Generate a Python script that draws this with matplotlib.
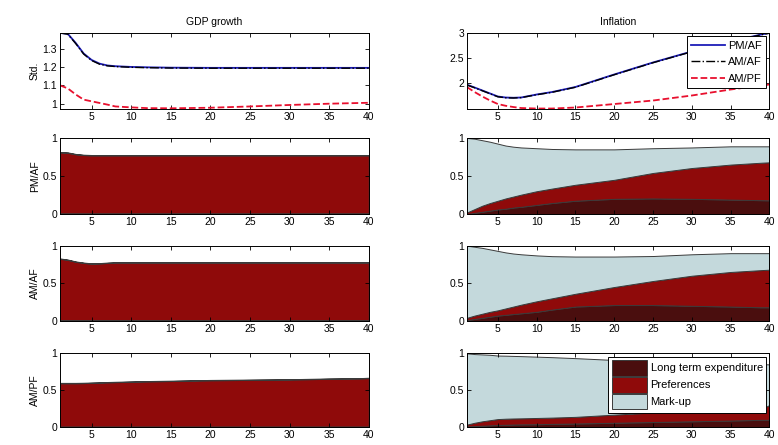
import matplotlib
matplotlib.use("Agg")
import matplotlib.pyplot as plt

plt.rcParams["font.family"] = ["Liberation Sans", "DejaVu Sans"]
plt.rcParams["font.size"] = 7.5

# horizons
horizons = [1, 2, 3, 4, 5, 6, 7, 8, 10, 12, 15, 20, 25, 30, 35, 39, 40]

# standard deviations
gdp_pm_af = [1.385, 1.38, 1.33, 1.273, 1.238, 1.218, 1.208, 1.204, 1.2, 1.198, 1.196, 1.195, 1.195, 1.195, 1.195, 1.195, 1.195]
gdp_am_af = [1.385, 1.378, 1.327, 1.27, 1.235, 1.215, 1.206, 1.202, 1.198, 1.196, 1.194, 1.193, 1.193, 1.193, 1.193, 1.193, 1.193]
gdp_am_pf = [1.1, 1.083, 1.05, 1.022, 1.013, 1.004, 0.995, 0.985, 0.98, 0.976, 0.975, 0.978, 0.985, 0.993, 1.0, 1.004, 1.005]
inf_pm_af = [1.967, 1.91, 1.85, 1.79, 1.73, 1.71, 1.705, 1.71, 1.77, 1.82, 1.92, 2.17, 2.41, 2.63, 2.83, 2.97, 3.0]
inf_am_af = [1.96, 1.905, 1.845, 1.785, 1.725, 1.705, 1.7, 1.708, 1.765, 1.815, 1.915, 2.165, 2.405, 2.625, 2.825, 2.965, 2.995]
inf_am_pf = [1.92, 1.82, 1.73, 1.65, 1.58, 1.545, 1.52, 1.5, 1.49, 1.49, 1.51, 1.58, 1.65, 1.75, 1.87, 1.95, 1.97]

# variance shares, GDP growth
gdp_lt = [0.01] * 17
gdp_mu = [0.005] * 17
gdp_pref_pm_af = [0.80, 0.795, 0.775, 0.765, 0.761, 0.761, 0.761, 0.761, 0.761, 0.761, 0.761, 0.761, 0.761, 0.761, 0.761, 0.761, 0.761]
gdp_pref_am_af = [0.815, 0.80, 0.775, 0.76, 0.75, 0.753, 0.76, 0.765, 0.765, 0.765, 0.765, 0.765, 0.765, 0.765, 0.765, 0.765, 0.765]
gdp_pref_am_pf = [0.585, 0.585, 0.585, 0.587, 0.59, 0.593, 0.597, 0.60, 0.605, 0.61, 0.615, 0.625, 0.63, 0.635, 0.645, 0.65, 0.655]

# variance shares, inflation
inf_lt_pm_af = [0.0, 0.015, 0.03, 0.045, 0.06, 0.07, 0.085, 0.095, 0.12, 0.145, 0.175, 0.2, 0.205, 0.2, 0.19, 0.182, 0.18]
inf_pref_pm_af = [0.02, 0.05, 0.08, 0.10, 0.115, 0.135, 0.145, 0.16, 0.18, 0.19, 0.21, 0.25, 0.335, 0.405, 0.46, 0.493, 0.5]
inf_mu_pm_af = [0.98, 0.925, 0.86, 0.805, 0.75, 0.695, 0.655, 0.62, 0.565, 0.52, 0.465, 0.40, 0.325, 0.27, 0.24, 0.215, 0.21]

inf_lt_am_af = [0.01, 0.025, 0.04, 0.055, 0.07, 0.08, 0.09, 0.1, 0.12, 0.15, 0.19, 0.21, 0.21, 0.2, 0.19, 0.18, 0.18]
inf_pref_am_af = [0.03, 0.045, 0.055, 0.065, 0.07, 0.085, 0.1, 0.115, 0.14, 0.15, 0.17, 0.24, 0.32, 0.4, 0.46, 0.495, 0.5]
inf_mu_am_af = [0.96, 0.915, 0.875, 0.83, 0.79, 0.745, 0.705, 0.67, 0.61, 0.56, 0.495, 0.405, 0.332, 0.285, 0.25, 0.225, 0.22]

inf_lt_am_pf = [0.01, 0.015, 0.02, 0.025, 0.03, 0.033, 0.036, 0.038, 0.04, 0.045, 0.05, 0.06, 0.07, 0.08, 0.09, 0.1, 0.1]
inf_pref_am_pf = [0.025, 0.045, 0.06, 0.07, 0.08, 0.082, 0.082, 0.082, 0.085, 0.085, 0.09, 0.11, 0.13, 0.14, 0.145, 0.15, 0.2]
inf_mu_am_pf = [0.965, 0.93, 0.905, 0.885, 0.86, 0.853, 0.847, 0.842, 0.83, 0.818, 0.795, 0.74, 0.69, 0.655, 0.625, 0.605, 0.55]

shock_names = ["Long term expenditure", "Preferences", "Mark-up"]
shock_colors = ["#4a0e0e", "#8f0a0a", "#c4d9dc"]
regime_names = ["PM/AF", "AM/AF", "AM/PF"]
xticks = [5, 10, 15, 20, 25, 30, 35, 40]

fig = plt.figure(figsize=(7.78, 4.45), dpi=100)

col_x = [0.077, 0.600]
col_w = [0.397, 0.389]
row_y = [0.755, 0.519, 0.279, 0.040]
row_h = [0.171, 0.171, 0.169, 0.166]


def style(ax):
    ax.set_xlim(1, 40)
    ax.set_xticks(xticks)
    ax.tick_params(direction="in", top=True, right=True, length=3, width=0.6, pad=2)
    for s in ax.spines.values():
        s.set_linewidth(0.7)


# row 1: standard deviations
ax = fig.add_axes([col_x[0], row_y[0], col_w[0], row_h[0]])
ax.plot(horizons, gdp_pm_af, color="#1c1cb8", lw=1.3)
ax.plot(horizons, gdp_am_af, color="black", lw=1.0, ls="-.")
ax.plot(horizons, gdp_am_pf, color="#e8102e", lw=1.3, ls="--")
ax.set_ylim(0.971, 1.385)
ax.set_yticks([1, 1.1, 1.2, 1.3])
ax.set_yticklabels(["1", "1.1", "1.2", "1.3"])
ax.set_ylabel("Std.", labelpad=2)
ax.set_title("GDP growth", fontsize=7.5, pad=6)
style(ax)

ax = fig.add_axes([col_x[1], row_y[0], col_w[1], row_h[0]])
ax.plot(horizons, inf_pm_af, color="#1c1cb8", lw=1.3, label="PM/AF")
ax.plot(horizons, inf_am_af, color="black", lw=1.0, ls="-.", label="AM/AF")
ax.plot(horizons, inf_am_pf, color="#e8102e", lw=1.3, ls="--", label="AM/PF")
ax.set_ylim(1.48, 3.0)
ax.set_yticks([2, 2.5, 3])
ax.set_yticklabels(["2", "2.5", "3"])
ax.set_title("Inflation", fontsize=7.5, pad=6)
style(ax)
leg = ax.legend(loc="upper right", fancybox=False, edgecolor="black", framealpha=1,
                handlelength=3, labelspacing=0.6, borderpad=0.4, handletextpad=0.3,
                borderaxespad=0.3, fontsize=8)
leg.get_frame().set_linewidth(0.7)

# rows 2-4: variance decomposition
gdp_stacks = [
    [gdp_lt, gdp_pref_pm_af, gdp_mu],
    [gdp_lt, gdp_pref_am_af, gdp_mu],
    [gdp_lt, gdp_pref_am_pf, gdp_mu],
]
inf_stacks = [
    [inf_lt_pm_af, inf_pref_pm_af, inf_mu_pm_af],
    [inf_lt_am_af, inf_pref_am_af, inf_mu_am_af],
    [inf_lt_am_pf, inf_pref_am_pf, inf_mu_am_pf],
]

for i in range(3):
    for j, stacks in enumerate([gdp_stacks, inf_stacks]):
        ax = fig.add_axes([col_x[j], row_y[i + 1], col_w[j], row_h[i + 1]])
        ax.stackplot(horizons, *stacks[i], colors=shock_colors,
                     labels=shock_names, edgecolor="#3a3a3a", linewidth=0.7)
        ax.set_ylim(0, 1)
        ax.set_yticks([0, 0.5, 1])
        ax.set_yticklabels(["0", "0.5", "1"])
        style(ax)
        if j == 0:
            ax.set_ylabel(regime_names[i], labelpad=2)
        if i == 2 and j == 1:
            leg = ax.legend(loc="upper right", fancybox=False, edgecolor="black",
                            framealpha=1, handlelength=3.2, handleheight=1.8,
                            labelspacing=0.1, borderpad=0.3, handletextpad=0.3,
                            borderaxespad=0.3, fontsize=8)
            leg.get_frame().set_linewidth(0.7)

fig.savefig("out.png", dpi=100)
